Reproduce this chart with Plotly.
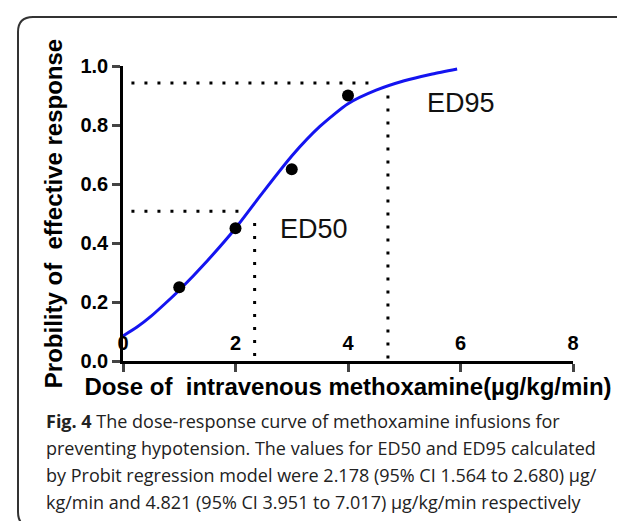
import plotly.graph_objects as go

# observed data points
dose = [1, 2, 3, 4]
response = [0.25, 0.45, 0.65, 0.90]

# fitted probit curve
curve_x = [0, 0.25, 0.5, 0.75, 1.0, 1.5, 2.0, 2.5, 3.0, 3.5, 4.0, 4.5, 5.0, 5.5, 5.94]
curve_y = [0.085, 0.115, 0.152, 0.195, 0.24, 0.34, 0.45, 0.575, 0.695, 0.795, 0.872, 0.918, 0.95, 0.973, 0.99]

# reference (dotted) lines
ed50_h_x = [0.15, 2.19]
ed50_h_y = [0.508, 0.508]
ed50_v_x = [2.34, 2.34]
ed50_v_y = [0.468, 0.0]
ed95_h_x = [0.15, 4.39]
ed95_h_y = [0.942, 0.942]
ed95_v_x = [4.71, 4.71]
ed95_v_y = [0.90, 0.0]

labels = ["ED50", "ED95"]
label_x = [3.4, 6.0]
label_y = [0.447, 0.875]

x_ticks = [0, 2, 4, 6, 8]
y_ticks = [0.0, 0.2, 0.4, 0.6, 0.8, 1.0]
y_ticklabels = ["0.0", "0.2", "0.4", "0.6", "0.8", "1.0"]

caption_lines = [
    "<b>Fig. 4</b> The dose-response curve of methoxamine infusions for",
    "preventing hypotension. The values for ED50 and ED95 calculated",
    "by Probit regression model were 2.178 (95% CI 1.564 to 2.680) \u00b5g/",
    "kg/min and 4.821 (95% CI 3.951 to 7.017) \u00b5g/kg/min respectively",
]

W, H = 625, 521
L, R, T, B = 115, 60, 58, 168
PW, PH = W - L - R, H - T - B


def px(xp):
    return (xp - L) / PW


def py(yp):
    return (H - B - yp) / PH


fig = go.Figure()

dot = dict(color="black", width=3, dash="3px,10px")
for xs, ys in [(ed50_h_x, ed50_h_y), (ed50_v_x, ed50_v_y), (ed95_h_x, ed95_h_y), (ed95_v_x, ed95_v_y)]:
    fig.add_trace(go.Scatter(x=xs, y=ys, mode="lines", line=dot, hoverinfo="skip"))

fig.add_trace(go.Scatter(x=curve_x, y=curve_y, mode="lines", line=dict(color="#1414f0", width=3, shape="spline", smoothing=0.6)))
fig.add_trace(go.Scatter(x=dose, y=response, mode="markers", marker=dict(color="black", size=12), cliponaxis=False))

for t, xx, yy in zip(labels, label_x, label_y):
    fig.add_annotation(x=xx, y=yy, text=t, showarrow=False, xanchor="center", yanchor="middle",
                       font=dict(family="Liberation Sans", size=27, color="#111"))

caption_y = [413, 440, 467, 494]
for line, yy in zip(caption_lines, caption_y):
    fig.add_annotation(xref="paper", yref="paper", x=px(36), y=py(yy), text=line, showarrow=False,
                       xanchor="left", yanchor="middle", align="left",
                       font=dict(family="Open Sans", size=18, color="#222"))

# rounded frame
r = 15
x0, y0, x1, y1 = 10, 9, 660, 519
path = (f"M {px(x1)},{py(y0)} L {px(x0 + r)},{py(y0)} Q {px(x0)},{py(y0)} {px(x0)},{py(y0 + r)} "
        f"L {px(x0)},{py(y1 - r)} Q {px(x0)},{py(y1)} {px(x0 + r)},{py(y1)} L {px(x1)},{py(y1)}")
fig.add_shape(type="path", xref="paper", yref="paper", path=path, line=dict(color="#333", width=2))

axis_font = dict(family="Liberation Sans", size=20, color="black", weight="bold")
title_font = dict(family="Liberation Sans", size=24, color="black", weight="bold")
fig.update_xaxes(range=[0, 8], tickvals=x_ticks, ticks="outside", ticklen=8, tickwidth=2.5,
                 ticklabelstandoff=-46,
                 showline=True, linewidth=2.5, linecolor="black", showgrid=False, zeroline=False,
                 tickfont=axis_font,
                 title=dict(text="Dose of \u00a0intravenous methoxamine(\u00b5g/kg/min)", standoff=26,
                            font=title_font))
fig.update_yaxes(range=[0, 1], tickvals=y_ticks, ticktext=y_ticklabels, ticks="outside", ticklen=8, tickwidth=2.5,
                 showline=True, linewidth=2.5, linecolor="black", showgrid=False, zeroline=False,
                 tickfont=axis_font,
                 title=dict(text="Probility of \u00a0effective response", standoff=12,
                            font=title_font))

fig.update_layout(width=W, height=H, margin=dict(l=L, r=R, t=T, b=B, autoexpand=False),
                  paper_bgcolor="white", plot_bgcolor="white", showlegend=False)

fig.write_html("out.html")
